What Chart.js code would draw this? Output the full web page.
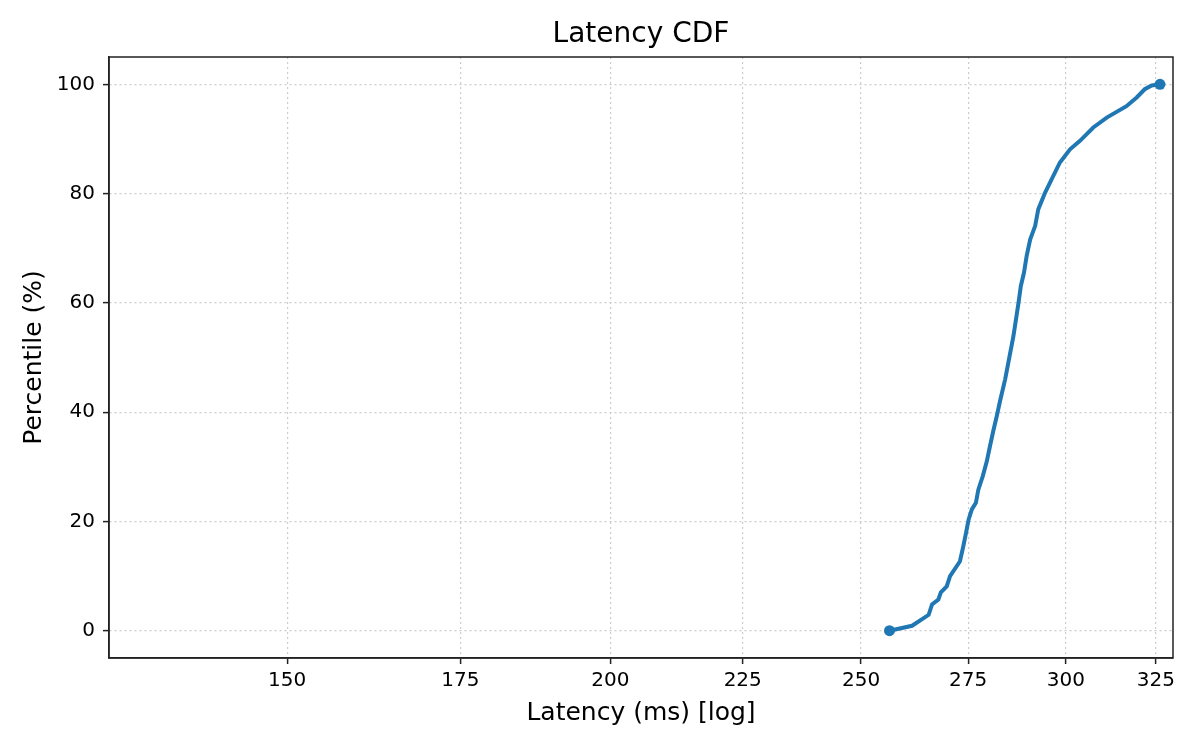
<!DOCTYPE html>
<html lang="en">
<head>
    <meta charset="UTF-8">
    <title>Latency CDF</title>
    <script src="https://cdn.jsdelivr.net/npm/chart.js"></script>
    <style>
        body { margin: 0; background: #ffffff; }
        canvas { display: block; }
    </style>
</head>
<body>
    <canvas id="cdfCanvas" width="1200" height="750"></canvas>

    <script>
        // latency (ms) vs percentile
        const latencyMs = [256.4, 261.6, 265.5, 266.3, 267.8, 268.4, 269.8, 270.6, 273.0, 273.8,
            274.5, 275.1, 275.9, 276.9, 277.5, 278.6, 279.6, 280.4, 281.2, 282.1,
            282.9, 284.2, 285.0, 286.3, 287.6, 288.2, 289.0, 289.7, 290.6, 291.9,
            292.7, 294.5, 296.2, 298.4, 301.1, 303.7, 307.4, 311.1, 316.6, 319.5,
            321.8, 323.8, 326.2];
        const percentile = [0, 0.9, 2.9, 4.8, 5.7, 7.0, 8.1, 10.0, 12.7, 15.4,
            18.0, 20.3, 22.2, 23.4, 25.8, 28.3, 31.0, 33.8, 36.5, 39.3,
            42.0, 46.0, 49.0, 53.9, 60.0, 63.1, 65.5, 68.6, 71.6, 74.1,
            77.1, 80.2, 82.6, 85.7, 88.1, 89.6, 92.1, 93.9, 96.0, 97.6,
            99.1, 99.8, 100];
        const xTicks = [150, 175, 200, 225, 250, 275, 300, 325];
        const yTicks = [0, 20, 40, 60, 80, 100];

        const fonte = "'DejaVu Sans', sans-serif";
        const azul = "#1f77b4";
        const gradeCor = "#cccccc";
        const eixoCor = "#222222";

        Chart.defaults.font.family = fonte;
        Chart.defaults.color = "#000000";

        // moldura completa em volta da área do gráfico
        const moldura = {
            id: "moldura",
            afterDraw(chart) {
                const a = chart.chartArea;
                const ctx = chart.ctx;
                ctx.save();
                ctx.setLineDash([]);
                ctx.strokeStyle = eixoCor;
                ctx.lineWidth = 1.5;
                ctx.strokeRect(a.left, a.top, a.right - a.left, a.bottom - a.top);
                ctx.restore();
            }
        };

        const pontos = latencyMs.map((v, i) => ({ x: v, y: percentile[i] }));
        const ultimo = pontos.length - 1;

        const grade = {
            color: gradeCor,
            lineWidth: 1.2,
            drawTicks: true,
            tickLength: 6,
            tickColor: eixoCor,
            tickWidth: 1.5,
            tickBorderDash: []
        };
        const borda = { display: true, color: eixoCor, width: 1.5, dash: [2, 3] };

        new Chart(document.getElementById("cdfCanvas"), {
            type: "line",
            data: {
                datasets: [{
                    data: pontos,
                    borderColor: azul,
                    backgroundColor: azul,
                    borderWidth: 4,
                    tension: 0,
                    pointRadius: ctx => (ctx.dataIndex === 0 || ctx.dataIndex === ultimo) ? 5.5 : 0,
                    pointBorderWidth: 0,
                    pointHoverRadius: 0
                }]
            },
            plugins: [moldura],
            options: {
                responsive: false,
                animation: false,
                devicePixelRatio: 1,
                layout: { padding: { left: 0, right: 27, top: 0, bottom: 0 } },
                plugins: {
                    legend: { display: false },
                    tooltip: { enabled: false },
                    title: {
                        display: true,
                        fullSize: false,
                        text: "Latency CDF",
                        color: "#000000",
                        font: { size: 28, weight: "normal", family: fonte },
                        padding: { top: 18, bottom: 5.4 }
                    }
                },
                scales: {
                    x: {
                        type: "logarithmic",
                        min: 128,
                        max: 330,
                        afterBuildTicks: scale => {
                            scale.ticks = xTicks.map(v => ({ value: v }));
                        },
                        afterFit: scale => { scale.height = 92; },
                        ticks: {
                            autoSkip: false,
                            maxRotation: 0,
                            padding: 5,
                            color: "#000000",
                            font: { size: 20 },
                            callback: v => String(v)
                        },
                        grid: grade,
                        border: borda,
                        title: {
                            display: true,
                            text: "Latency (ms) [log]",
                            color: "#000000",
                            font: { size: 25 },
                            padding: { top: 4, bottom: 22 }
                        }
                    },
                    y: {
                        min: -5,
                        max: 105,
                        afterBuildTicks: scale => {
                            scale.ticks = yTicks.map(v => ({ value: v }));
                        },
                        afterFit: scale => { scale.width = 109; },
                        ticks: {
                            padding: 8,
                            color: "#000000",
                            font: { size: 20 }
                        },
                        grid: grade,
                        border: borda,
                        title: {
                            display: true,
                            text: "Percentile (%)",
                            color: "#000000",
                            font: { size: 25 },
                            padding: { top: 19, bottom: 4 }
                        }
                    }
                }
            }
        });
    </script>
</body>
</html>
